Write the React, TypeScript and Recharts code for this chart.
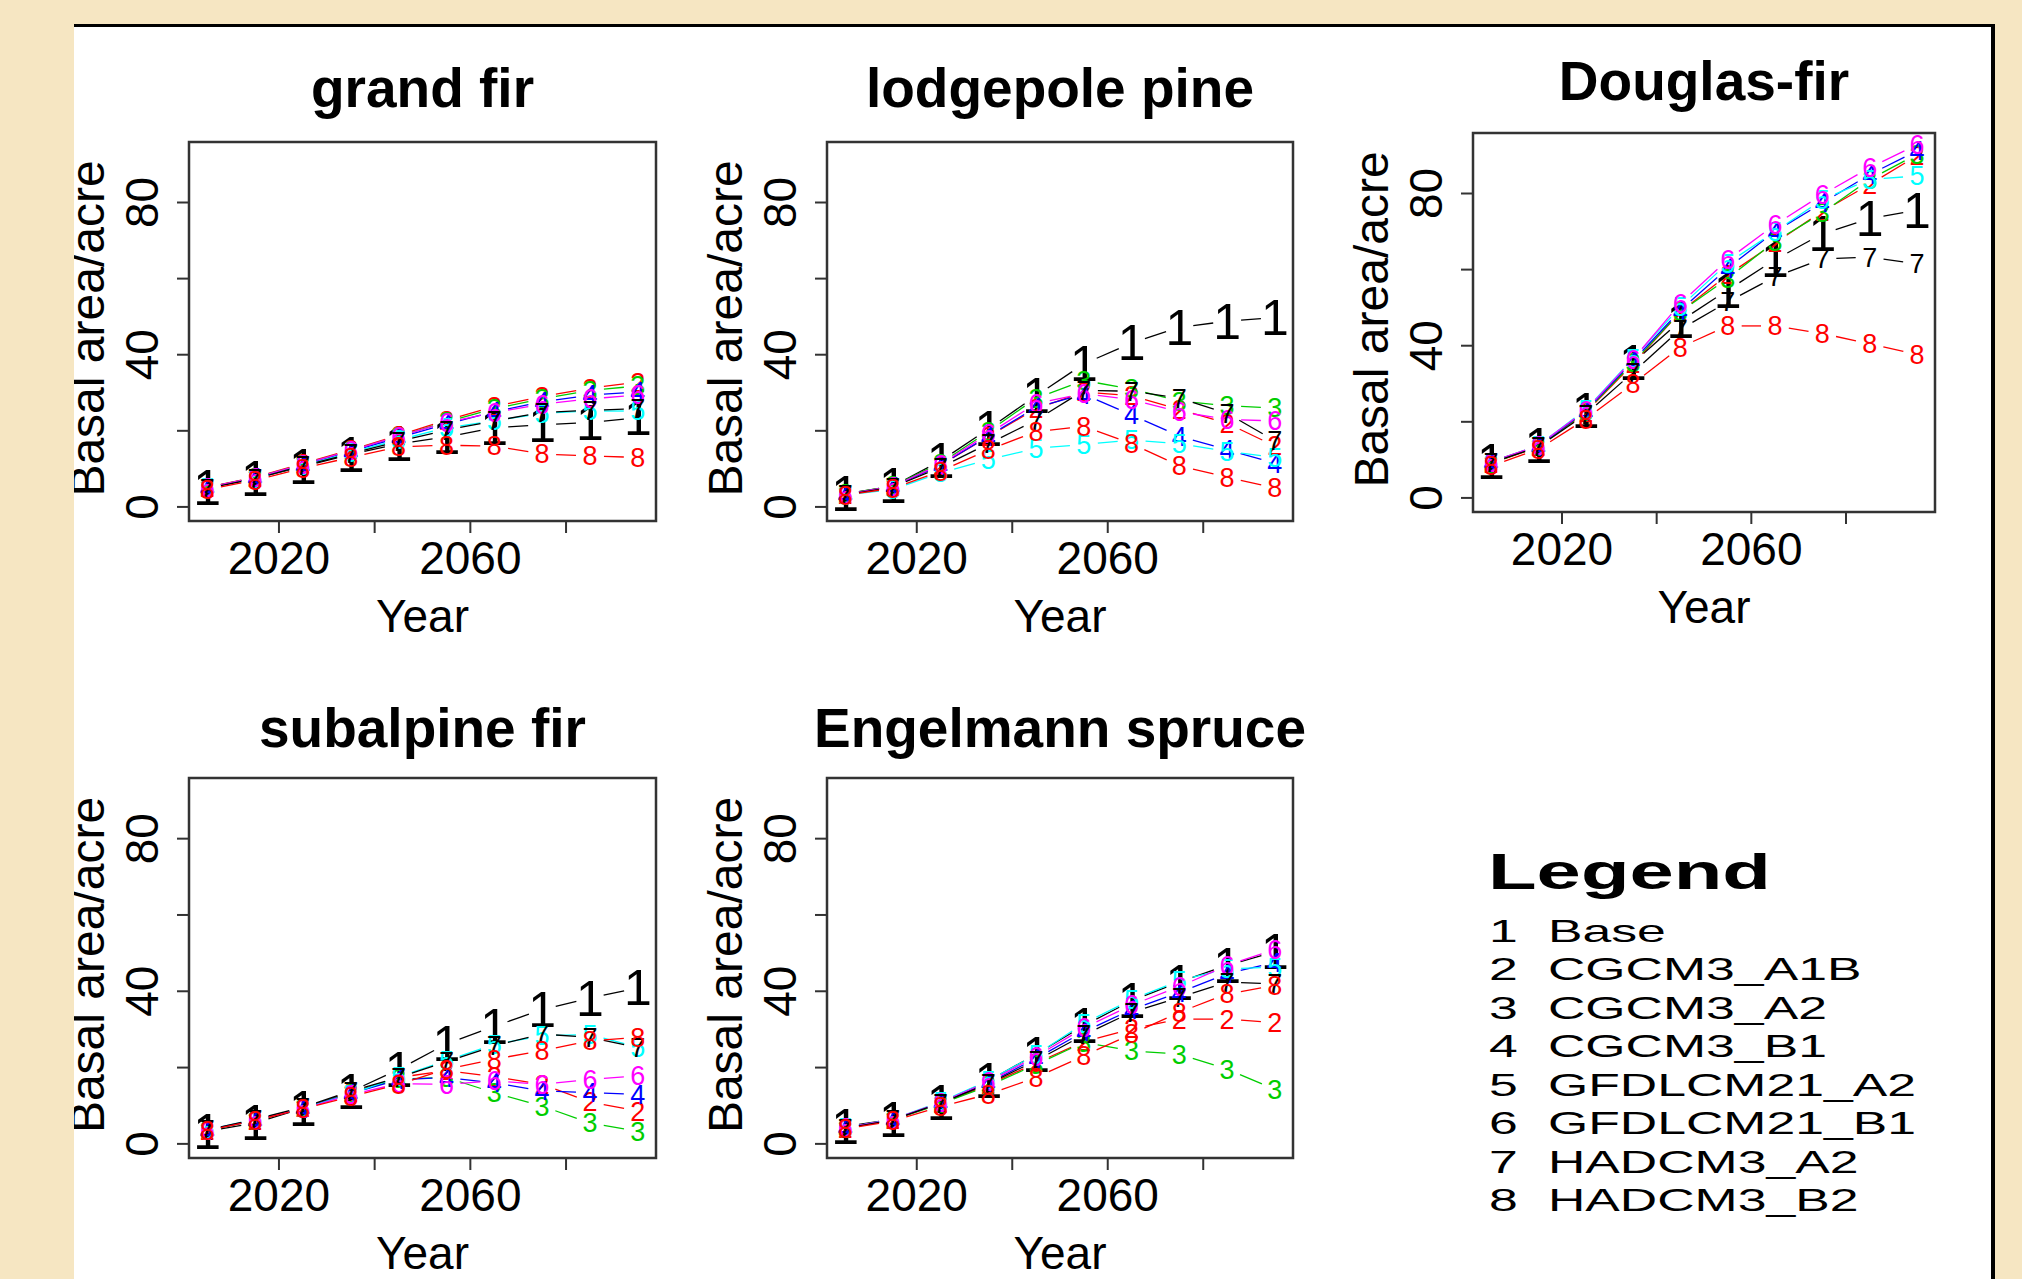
import React from 'react';
import { LineChart, Line, XAxis, YAxis, ReferenceArea } from 'recharts';

const FONT = '"Liberation Sans", Arial, Helvetica, sans-serif';
const AXIS = '#333333';

const YEARS = [2005, 2015, 2025, 2035, 2045, 2055, 2065, 2075, 2085, 2095];
const SCENARIOS = ['Base', 'CGCM3_A1B', 'CGCM3_A2', 'CGCM3_B1', 'GFDLCM21_A2', 'GFDLCM21_B1', 'HADCM3_A2', 'HADCM3_B2'];
// R default palette, recycled for series 7 and 8
const SERIES_COLORS = ['#000000', '#ff0000', '#00cd00', '#0000ff', '#00ffff', '#ff00ff', '#000000', '#ff0000'];

const X_TICKS = [2020, 2040, 2060, 2080];
const X_LABELS = [2020, 2060];
const Y_TICKS = [0, 20, 40, 60, 80];
const Y_LABELS = [0, 40, 80];
const X_DOMAIN: [number, number] = [2001.2, 2098.8];
const Y_DOMAIN: [number, number] = [-3.7, 95.9];

// basal area per scenario (rows follow SCENARIOS), one value per year
const GRAND_FIR = [
  [5.1, 7.6, 10.6, 13.8, 16.6, 18.4, 20.8, 21.6, 22.2, 23.4],
  [5.2, 7.8, 11.4, 15.0, 18.8, 22.8, 26.4, 29.0, 31.2, 32.8],
  [5.1, 7.7, 11.2, 14.8, 18.5, 22.4, 25.8, 28.4, 30.6, 31.8],
  [5.0, 7.6, 11.0, 14.6, 18.2, 21.8, 25.0, 27.6, 29.4, 30.2],
  [5.0, 7.5, 10.9, 14.3, 17.6, 20.8, 22.6, 24.6, 25.2, 25.2],
  [5.1, 7.7, 11.2, 14.8, 18.6, 22.2, 24.8, 27.0, 28.4, 29.4],
  [4.9, 7.4, 10.8, 14.0, 17.2, 20.2, 22.6, 24.8, 25.4, 25.8],
  [4.6, 7.0, 10.2, 13.0, 15.8, 16.2, 16.0, 13.9, 13.4, 13.0],
];

const LODGEPOLE_PINE = [
  [3.4, 5.5, 12.1, 20.5, 29.2, 37.6, 43.1, 47.2, 48.8, 49.8],
  [3.3, 5.4, 11.0, 18.5, 25.8, 30.2, 29.2, 25.6, 22.0, 16.0],
  [3.4, 5.5, 11.5, 19.8, 28.6, 33.2, 31.0, 27.8, 26.6, 26.0],
  [3.3, 5.3, 11.0, 18.6, 26.2, 29.6, 24.2, 18.6, 15.0, 11.5],
  [3.1, 4.6, 9.0, 12.4, 15.4, 16.4, 17.6, 16.6, 14.6, 13.0],
  [3.3, 5.4, 11.2, 19.2, 27.2, 29.8, 28.2, 25.0, 23.0, 22.6],
  [3.2, 5.2, 10.4, 16.6, 22.8, 30.6, 30.4, 28.6, 24.6, 17.4],
  [3.1, 4.9, 9.4, 15.0, 19.8, 21.2, 16.6, 10.8, 7.8, 5.0],
];

const DOUGLAS_FIR = [
  [9.5, 13.7, 22.9, 35.5, 46.5, 54.6, 62.6, 69.4, 73.4, 75.6],
  [9.0, 13.4, 22.4, 35.2, 48.9, 58.6, 67.0, 75.3, 82.4, 89.9],
  [9.1, 13.5, 22.6, 35.5, 48.9, 57.7, 67.4, 74.9, 83.7, 90.3],
  [9.3, 13.6, 22.8, 36.0, 49.3, 60.4, 70.0, 77.5, 85.0, 91.2],
  [9.4, 13.8, 23.2, 36.6, 50.2, 61.7, 70.0, 78.4, 83.7, 84.6],
  [9.4, 13.8, 23.0, 36.4, 51.1, 62.6, 71.8, 79.7, 86.8, 92.8],
  [9.2, 13.4, 22.0, 33.0, 44.3, 51.5, 58.1, 62.8, 63.3, 61.5],
  [8.4, 12.8, 20.7, 30.0, 39.6, 45.2, 45.2, 43.2, 40.5, 37.7],
];

const SUBALPINE_FIR = [
  [3.3, 5.5, 9.3, 13.7, 19.5, 26.2, 30.8, 35.2, 38.2, 40.9],
  [3.6, 6.2, 9.4, 13.4, 17.4, 19.2, 17.6, 15.6, 11.0, 8.6],
  [3.5, 6.1, 9.4, 13.3, 17.0, 17.4, 13.4, 9.9, 5.5, 3.3],
  [3.6, 6.2, 9.3, 13.2, 16.8, 17.4, 16.0, 13.9, 13.4, 13.0],
  [3.7, 6.4, 9.3, 13.0, 17.6, 21.8, 26.1, 28.3, 28.7, 25.3],
  [3.6, 6.3, 9.2, 12.9, 15.8, 15.6, 16.5, 15.6, 16.9, 17.8],
  [3.7, 6.4, 9.6, 13.8, 17.4, 21.5, 25.7, 28.8, 27.9, 25.3],
  [3.5, 6.1, 9.2, 12.4, 15.6, 19.6, 22.2, 24.4, 27.0, 27.9],
];

const ENGELMANN_SPRUCE = [
  [4.6, 6.4, 10.8, 16.5, 23.5, 31.0, 37.5, 42.4, 46.8, 50.3],
  [4.1, 6.3, 10.6, 15.5, 21.2, 26.8, 30.1, 32.7, 32.7, 31.8],
  [4.1, 6.3, 10.5, 15.2, 20.8, 26.6, 24.4, 23.5, 19.6, 14.3],
  [4.2, 6.4, 10.8, 16.0, 22.4, 29.4, 35.2, 39.7, 44.6, 47.6],
  [4.2, 6.5, 11.0, 16.6, 23.4, 31.6, 37.8, 42.8, 45.9, 46.3],
  [4.2, 6.4, 10.9, 16.3, 22.9, 30.4, 36.4, 41.2, 46.8, 51.0],
  [4.1, 6.3, 10.7, 15.8, 21.8, 28.6, 34.5, 38.4, 42.4, 41.9],
  [3.9, 6.0, 9.8, 13.0, 17.4, 23.1, 28.8, 34.5, 39.3, 41.5],
];

const toRows = (series: number[][]) =>
  YEARS.map((year, i) => {
    const row: any = { year };
    series.forEach((s, k) => {
      row[`s${k + 1}`] = s[i];
    });
    return row;
  });

// white slide panel origin (inside its top border)
const PANEL_X = 74;
const PANEL_Y = 27;
// chart margins around the plot box
const ML = 130;
const MT = 90;
const MR = 20;
const XH = 130;

const PANELS = [
  { title: 'grand fir', series: GRAND_FIR, x: 189, y: 142, w: 467, h: 379, titleY: 107 },
  { title: 'lodgepole pine', series: LODGEPOLE_PINE, x: 827, y: 142, w: 466, h: 379, titleY: 107 },
  { title: 'Douglas-fir', series: DOUGLAS_FIR, x: 1473, y: 133, w: 462, h: 379, titleY: 100 },
  { title: 'subalpine fir', series: SUBALPINE_FIR, x: 189, y: 778, w: 467, h: 380, titleY: 747 },
  { title: 'Engelmann spruce', series: ENGELMANN_SPRUCE, x: 827, y: 778, w: 466, h: 380, titleY: 747 },
];

// R type="b": the digit at each point, the segment to the next point with a gap at both ends
const GAP = 14;
const makeDot = (k: number) => (props: any) => {
  const { cx, cy, index, points } = props;
  const color = SERIES_COLORS[k];
  let seg = null;
  if (points && index < points.length - 1) {
    const nx = points[index + 1].x;
    const ny = points[index + 1].y;
    const dx = nx - cx;
    const dy = ny - cy;
    const d = Math.hypot(dx, dy);
    if (d > 2 * GAP) {
      const ux = dx / d;
      const uy = dy / d;
      seg = (
        <line
          x1={cx + ux * GAP}
          y1={cy + uy * GAP}
          x2={nx - ux * GAP}
          y2={ny - uy * GAP}
          stroke={color}
          strokeWidth={1.3}
        />
      );
    }
  }
  return (
    <g key={`dot-${k}-${index}`}>
      {seg}
      <text
        x={cx}
        y={cy}
        dy="0.35em"
        textAnchor="middle"
        fontSize={k === 0 ? 50 : 27}
        fontFamily={FONT}
        fill={color}
      >
        {k + 1}
      </text>
    </g>
  );
};

const renderXTick = (p: any) => {
  const v = p.payload.value;
  if (!X_LABELS.includes(v)) return <g key={`xt-${v}`} />;
  return (
    <text key={`xt-${v}`} x={p.x} y={p.y + 41} textAnchor="middle" fontSize={46} fontFamily={FONT} fill="#000">
      {v}
    </text>
  );
};

const renderYTick = (p: any) => {
  const v = p.payload.value;
  if (!Y_LABELS.includes(v)) return <g key={`yt-${v}`} />;
  const bx = p.x - 18.5;
  return (
    <text
      key={`yt-${v}`}
      x={bx}
      y={p.y}
      transform={`rotate(-90 ${bx} ${p.y})`}
      textAnchor="middle"
      fontSize={46}
      fontFamily={FONT}
      fill="#000"
    >
      {v}
    </text>
  );
};

function SpeciesChart({ panel }: { panel: (typeof PANELS)[number] }) {
  const rows = toRows(panel.series);
  const width = panel.w + ML + MR;
  const height = panel.h + MT + XH;
  const yLabelX = ML - 85.5;
  const yLabelY = MT + panel.h / 2 - 3;
  return (
    <div style={{ position: 'absolute', left: panel.x - ML - PANEL_X, top: panel.y - MT - PANEL_Y }}>
      <LineChart width={width} height={height} data={rows} margin={{ top: MT, right: MR, bottom: 0, left: 0 }}>
        <XAxis
          dataKey="year"
          type="number"
          domain={X_DOMAIN}
          ticks={X_TICKS}
          allowDataOverflow
          interval={0}
          axisLine={false}
          tickSize={12}
          tickMargin={0}
          tickLine={{ stroke: AXIS, strokeWidth: 2 }}
          tick={renderXTick}
          height={XH}
          label={{
            content: () => (
              <text x={ML + panel.w / 2} y={MT + panel.h + 110.5} textAnchor="middle" fontSize={46} fontFamily={FONT} fill="#000">
                Year
              </text>
            ),
          }}
        />
        <YAxis
          type="number"
          domain={Y_DOMAIN}
          ticks={Y_TICKS}
          allowDataOverflow
          interval={0}
          axisLine={false}
          tickSize={12}
          tickMargin={0}
          tickLine={{ stroke: AXIS, strokeWidth: 2 }}
          tick={renderYTick}
          width={ML}
          label={{
            content: () => (
              <text
                x={yLabelX}
                y={yLabelY}
                transform={`rotate(-90 ${yLabelX} ${yLabelY})`}
                textAnchor="middle"
                fontSize={48}
                fontFamily={FONT}
                fill="#000"
              >
                Basal area/acre
              </text>
            ),
          }}
        />
        <ReferenceArea
          x1={X_DOMAIN[0]}
          x2={X_DOMAIN[1]}
          y1={Y_DOMAIN[0]}
          y2={Y_DOMAIN[1]}
          fill="none"
          stroke={AXIS}
          strokeWidth={2.5}
          fillOpacity={0}
        />
        {SCENARIOS.map((name, k) => (
          <Line
            key={name}
            name={name}
            dataKey={`s${k + 1}`}
            stroke="none"
            dot={makeDot(k)}
            activeDot={false}
            isAnimationActive={false}
          />
        ))}
      </LineChart>
    </div>
  );
}

export default function App() {
  return (
    <div
      style={{
        position: 'absolute',
        left: 0,
        top: 0,
        width: 2022,
        height: 1279,
        background: '#f6e6c2',
        overflow: 'hidden',
        fontFamily: FONT,
      }}
    >
      <div
        style={{
          position: 'absolute',
          left: PANEL_X,
          top: PANEL_Y - 3,
          width: 1921,
          height: 1300,
          background: '#ffffff',
          borderTop: '3px solid #000',
          borderRight: '4px solid #000',
          boxSizing: 'border-box',
          overflow: 'hidden',
        }}
      >
        {PANELS.map((p) => (
          <SpeciesChart key={p.title} panel={p} />
        ))}
        <svg
          width={1921}
          height={1300}
          style={{ position: 'absolute', left: 0, top: 0, pointerEvents: 'none' }}
        >
          <g transform={`translate(${-PANEL_X} ${-PANEL_Y})`} fontFamily={FONT} fill="#000">
            {PANELS.map((p) => (
              <text key={p.title} x={p.x + p.w / 2} y={p.titleY} textAnchor="middle" fontSize={55} fontWeight="bold">
                {p.title}
              </text>
            ))}
            <text x={1488} y={889} fontSize={50} fontWeight="bold" textLength={283} lengthAdjust="spacingAndGlyphs">
              Legend
            </text>
            <g transform="translate(1489 0) scale(1.67 1)">
              {SCENARIOS.map((name, k) => (
                <g key={name}>
                  <text x={0} y={941.7 + 38.5 * k} fontSize={31}>
                    {k + 1}
                  </text>
                  <text x={35.3} y={941.7 + 38.5 * k} fontSize={31}>
                    {name}
                  </text>
                </g>
              ))}
            </g>
          </g>
        </svg>
      </div>
    </div>
  );
}
